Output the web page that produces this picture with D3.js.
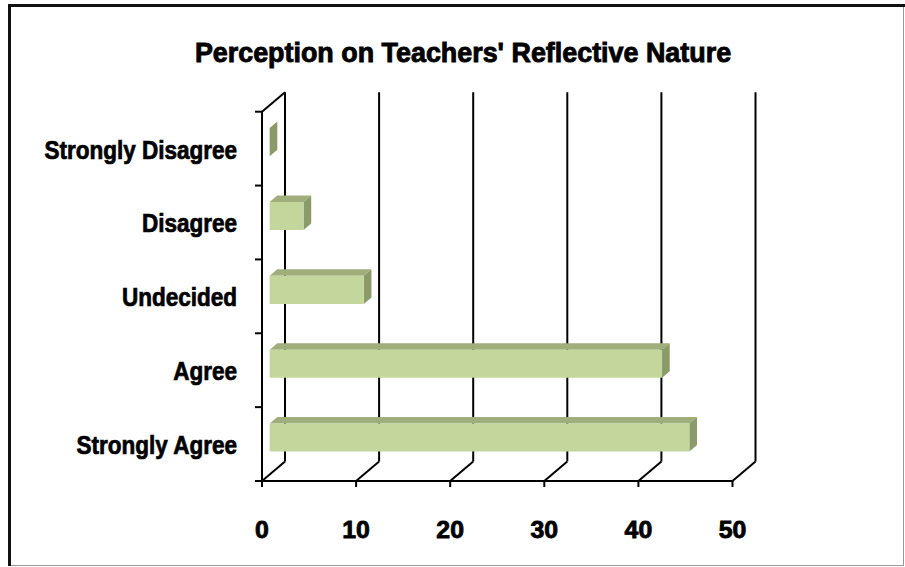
<!DOCTYPE html>
<html>
<head>
<meta charset="utf-8">
<script src="https://cdn.jsdelivr.net/npm/d3@7"></script>
<style>
  body { margin: 0; background: #fff; }
  svg { display: block; }
  text { font-family: "Liberation Sans", Arial, sans-serif; font-weight: bold; fill: #000; stroke: #000; paint-order: stroke; }
</style>
</head>
<body>
<svg width="905" height="567"></svg>
<script>
const title = "Perception on Teachers' Reflective Nature";
const categories = ["Strongly Disagree", "Disagree", "Undecided", "Agree", "Strongly Agree"];
const values = [0, 3.6, 10, 41.7, 44.6];
const xTicks = [0, 10, 20, 30, 40, 50];

const frontColor = "#c3d69b";
const topColor = "#9fae7b";
const sideColor = "#8a9a69";

const svg = d3.select("svg");

// squeeze text horizontally, a bit like the narrow original font
const squeeze = (sel, factor) => sel.each(function () {
    const w = this.getComputedTextLength();
    d3.select(this).attr("textLength", w * factor).attr("lengthAdjust", "spacingAndGlyphs");
});

// frame
svg.append("rect")
    .attr("x", 8.5).attr("y", 5.5)
    .attr("width", 895).attr("height", 560)
    .attr("fill", "none").attr("stroke", "#9a9a9a").attr("stroke-width", 1);
svg.append("path")
    .attr("d", "M9.5,566V5.5H905")
    .attr("fill", "none").attr("stroke", "#111").attr("stroke-width", 3);

// 3d plot geometry
const depthX = 23, depthY = -19.5;
const plotTop = 111.7, plotBottom = 481;

const x = d3.scaleLinear().domain([0, 50]).range([262, 732.5]);
const y = d3.scaleBand().domain(categories).range([plotTop, plotBottom])
    .paddingInner(0.62).paddingOuter(0.31);

const at = (px, py, depth) => [px + depthX * depth, py + depthY * depth];
const poly = pts => "M" + pts.map(p => p.join(",")).join("L") + "Z";

const grid = svg.append("g").attr("stroke", "#000").attr("stroke-width", 2).attr("fill", "none");

// back wall vertical gridlines + floor diagonals
xTicks.forEach(t => {
    const [bx, byTop] = at(x(t), plotTop, 1);
    const [, byBot] = at(x(t), plotBottom, 1);
    grid.append("line").attr("x1", bx).attr("y1", byTop).attr("x2", bx).attr("y2", byBot);
    grid.append("line").attr("x1", bx).attr("y1", byBot).attr("x2", x(t)).attr("y2", plotBottom);
});

// left side wall top edge
grid.append("line")
    .attr("x1", x(0)).attr("y1", plotTop)
    .attr("x2", x(0) + depthX).attr("y2", plotTop + depthY);

// bars (in the middle third of the depth)
const d0 = 1 / 3, d1 = 2 / 3;
const bars = svg.append("g");
categories.forEach((c, i) => {
    const v = values[i];
    const x0 = x(0), x1 = x(v);
    const yTop = y(c), yBot = y(c) + y.bandwidth();
    // top face
    bars.append("path")
        .attr("d", poly([at(x0, yTop, d0), at(x1, yTop, d0), at(x1, yTop, d1), at(x0, yTop, d1)]))
        .attr("fill", topColor);
    // side face
    bars.append("path")
        .attr("d", poly([at(x1, yTop, d0), at(x1, yTop, d1), at(x1, yBot, d1), at(x1, yBot, d0)]))
        .attr("fill", sideColor);
    // front face
    bars.append("path")
        .attr("d", poly([at(x0, yTop, d0), at(x1, yTop, d0), at(x1, yBot, d0), at(x0, yBot, d0)]))
        .attr("fill", frontColor);
});

// front axes
const axes = svg.append("g").attr("stroke", "#000").attr("stroke-width", 2).attr("fill", "none");
axes.append("line").attr("x1", x(0)).attr("y1", plotTop).attr("x2", x(0)).attr("y2", plotBottom + 1);
axes.append("line").attr("x1", x(0) - 1).attr("y1", plotBottom).attr("x2", x(50)).attr("y2", plotBottom);
xTicks.forEach(t => {
    axes.append("line").attr("x1", x(t)).attr("y1", plotBottom).attr("x2", x(t)).attr("y2", plotBottom + 6);
});
const boundaries = d3.range(categories.length + 1).map(i => plotTop + i * y.step());
boundaries.forEach(b => {
    axes.append("line").attr("x1", x(0) - 7).attr("y1", b).attr("x2", x(0)).attr("y2", b);
});

// labels
svg.append("text")
    .attr("x", 463).attr("y", 62)
    .attr("text-anchor", "middle")
    .attr("font-size", 28)
    .attr("stroke-width", 0.9)
    .text(title)
    .call(squeeze, 0.96);

svg.append("g").selectAll("text")
    .data(categories)
    .join("text")
    .attr("x", 237)
    .attr("y", d => y(d) + y.bandwidth() / 2 + 10)
    .attr("text-anchor", "end")
    .attr("font-size", 25)
    .attr("stroke-width", 0.7)
    .text(d => d)
    .call(squeeze, 0.9);

svg.append("g").selectAll("text")
    .data(xTicks)
    .join("text")
    .attr("x", d => x(d))
    .attr("y", 538)
    .attr("text-anchor", "middle")
    .attr("font-size", 23)
    .attr("stroke-width", 0.8)
    .text(d => d)
    .call(squeeze, 1.08);
</script>
</body>
</html>
